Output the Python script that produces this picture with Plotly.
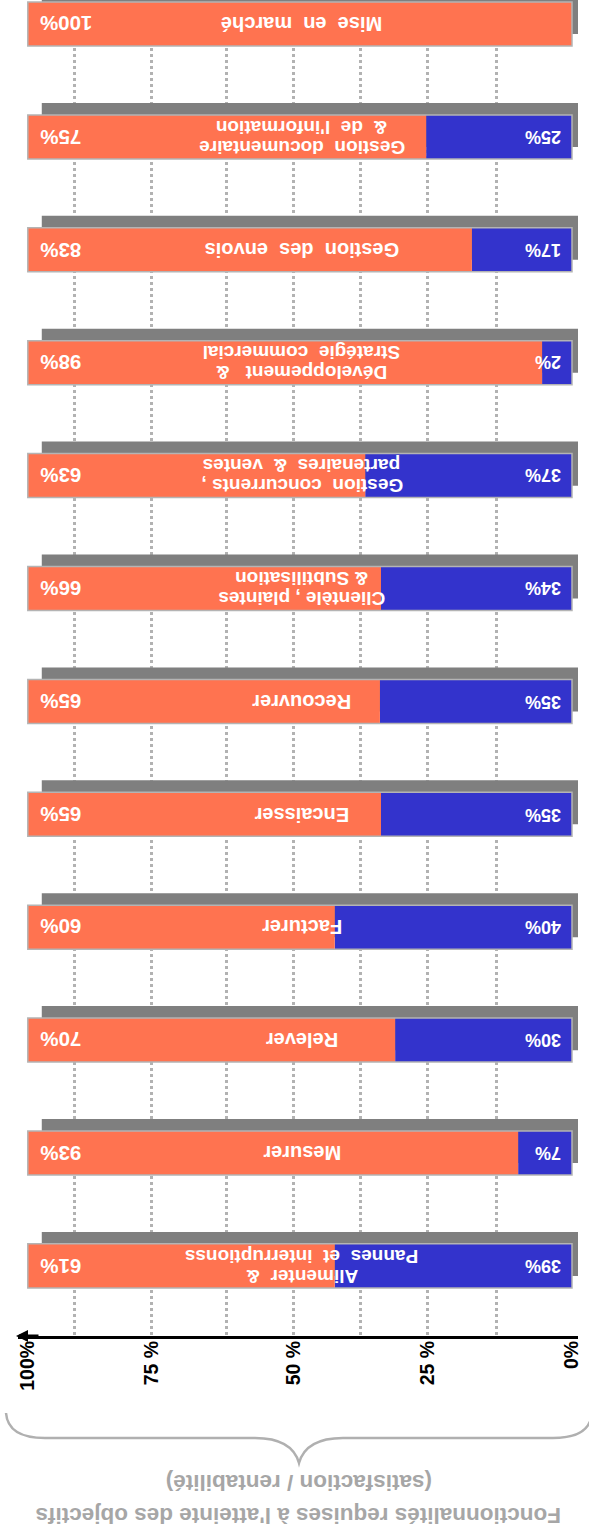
import plotly.graph_objects as go

# ---------------- data ----------------
categories = [
    "Mise en marché",
    "Gestion documentaire & de l'information",
    "Gestion des envois",
    "Développement & Stratégie commercial",
    "Gestion concurrents, partenaires & ventes",
    "Clientèle, plaintes & Subtilisation",
    "Recouvrer",
    "Encaisser",
    "Facturer",
    "Relever",
    "Mesurer",
    "Alimenter & Pannes et interruptionss",
]
# label lines as printed on each bar (first line is the lower one once turned)
category_lines = [
    ["Mise\u00a0 en\u00a0 marché"],
    ["Gestion\u00a0 documentaire", "&\u00a0 de\u00a0 l'information"],
    ["Gestion\u00a0 des\u00a0 envois"],
    ["Développement\u00a0\u00a0 &", "Stratégie\u00a0 commercial"],
    ["Gestion\u00a0 concurrents ,", "partenaires\u00a0 &\u00a0 ventes"],
    ["Clientèle , plaintes", "& Subtilisation"],
    ["Recouvrer"],
    ["Encaisser"],
    ["Facturer"],
    ["Relever"],
    ["Mesurer"],
    ["Alimenter\u00a0 &", "Pannes\u00a0 et\u00a0 interruptionss"],
]
# share of each bar drawn in blue (as drawn in the picture)
blue_drawn = [0, 26.8, 18.4, 5.5, 38.0, 35.1, 35.3, 35.1, 43.6, 32.5, 9.9, 43.6]
blue_text = ["", "25%", "17%", "2%", "37%", "34%", "35%", "35%", "40%", "30%", "7%", "39%"]
orange_text = ["100%", "75%", "83%", "98%", "63%", "66%", "65%", "65%", "60%", "70%", "93%", "61%"]
tick_vals = [0, 26.5, 51.1, 77.3, 100]
tick_text = ["0%", "25 %", "50 %", "75 %", "100%"]
grid_vals = [13.8, 26.5, 38.8, 51.1, 63.4, 77.3, 91.4]
title_lines = ["Fonctionnalités requises à l'atteinte des objectifs", "(satisfaction / rentabilité)"]

# ---------------- layout constants ----------------
W, H = 589, 1540
ML, MR, MT, MB = 18, 11, 0, 204
XR = [101.8, -1.1]
YR = [11.621, -0.2126]
BAR_W = 0.39
SHADOW_DY = 0.106
SHADOW_DX = 2.57
LINE_PITCH = 20
ORANGE = "#FF7350"
BLUE = "#3333CC"
SHADOW = "#7F7F7F"
FONT = "Liberation Sans"

n = len(categories)
orange_len = [100 - b for b in blue_drawn]

fig = go.Figure()
# shadows
fig.add_trace(go.Bar(y=categories, x=[100] * n, base=[-SHADOW_DX] * n, orientation="h",
                     width=BAR_W, offset=-BAR_W / 2 - SHADOW_DY, marker_color=SHADOW,
                     marker_line_width=0, cliponaxis=False, hoverinfo="skip", showlegend=False))
fig.add_trace(go.Bar(y=categories, x=blue_drawn, base=[0] * n, orientation="h",
                     width=BAR_W, offset=-BAR_W / 2, marker_color=BLUE,
                     marker_line_width=0, cliponaxis=False, showlegend=False))
fig.add_trace(go.Bar(y=categories, x=orange_len, base=blue_drawn, orientation="h",
                     width=BAR_W, offset=-BAR_W / 2, marker_color=ORANGE,
                     marker_line_width=0, cliponaxis=False, showlegend=False))
# outline
fig.add_trace(go.Bar(y=categories, x=[100] * n, base=[0] * n, orientation="h",
                     width=BAR_W, offset=-BAR_W / 2, marker_color="rgba(0,0,0,0)",
                     marker_line=dict(color="#B4B4B4", width=1.5), cliponaxis=False,
                     hoverinfo="skip", showlegend=False))
# dummy on overlay axis carrying the tick labels
fig.add_trace(go.Scatter(x=[50], y=[categories[0]], xaxis="x2", mode="markers",
                         marker=dict(opacity=0), hoverinfo="skip", showlegend=False))

ann = []
for i, c in enumerate(categories):
    lines = category_lines[i]
    m = len(lines)
    for k, line in enumerate(lines):
        ann.append(dict(x=49.6, y=c, xref="x", yref="y", text=line, showarrow=False,
                        textangle=180, xanchor="center", yanchor="middle", align="center",
                        yshift=(k - (m - 1) / 2) * LINE_PITCH,
                        font=dict(family=FONT, size=20 if m == 1 else 19,
                                  color="white", weight="bold")))
    ann.append(dict(x=98.0, y=c, xref="x", yref="y", text=orange_text[i], showarrow=False,
                    textangle=180, xanchor="left", yanchor="middle",
                    font=dict(family=FONT, size=20.5, color="white", weight="bold")))
    if blue_text[i]:
        ann.append(dict(x=1.65, y=c, xref="x", yref="y", text=blue_text[i], showarrow=False,
                        textangle=180, xanchor="right", yanchor="middle",
                        font=dict(family=FONT, size=18, color="white", weight="bold")))

PW, PH = W - ML - MR, H - MT - MB


def px(xp, yp):
    return (xp - ML) / PW, (H - MB - yp) / PH


# axis arrow
ax0, ay0 = px(16, 1336)
ann.append(dict(x=ax0, y=ay0, xref="paper", yref="paper", ax=24, ay=0, text="",
                showarrow=True, arrowhead=2, arrowsize=0.8, arrowwidth=3, arrowcolor="black"))
# title (two lines, first one lowest once turned)
for k, (yc, line) in enumerate(zip([1515, 1483], title_lines)):
    tx, ty = px(299, yc)
    ann.append(dict(x=tx, y=ty, xref="paper", yref="paper", text=line,
                    showarrow=False, textangle=180, xanchor="center", yanchor="middle",
                    font=dict(family=FONT, size=22.5, color="#A6A6A6", weight="bold")))

# brace path
pts = [("M", [(6, 1413)]), ("Q", [(8, 1438), (45, 1438)]), ("L", [(255, 1438)]),
       ("Q", [(292, 1438), (299, 1463)]), ("Q", [(306, 1438), (343, 1438)]),
       ("L", [(553, 1438)]), ("Q", [(590, 1438), (592, 1413)])]
path = ""
for cmd, plist in pts:
    path += cmd + " " + " ".join("%.5f,%.5f" % px(a, b) for a, b in plist) + " "

fig.update_layout(
    width=W, height=H, margin=dict(l=ML, r=MR, t=MT, b=MB),
    paper_bgcolor="white", plot_bgcolor="white", barmode="overlay",
    xaxis=dict(range=XR, autorange=False, tickvals=grid_vals, showticklabels=False,
               showgrid=True, griddash="dot", gridcolor="#B2B2B2", gridwidth=2.5,
               zeroline=False, showline=True, linecolor="black", linewidth=3, ticks=""),
    xaxis2=dict(range=XR, autorange=False, overlaying="x", anchor="y", side="bottom",
                tickvals=tick_vals, ticktext=tick_text, tickangle=-90, showgrid=False,
                zeroline=False, showline=False, ticks="",
                tickfont=dict(family=FONT, size=19.5, color="black", weight="bold")),
    yaxis=dict(type="category", categoryorder="array", categoryarray=categories,
               range=YR, autorange=False, showticklabels=False, showgrid=False,
               zeroline=False, showline=False, ticks=""),
    annotations=ann,
    shapes=[dict(type="path", path=path.strip(), xref="paper", yref="paper",
                 line=dict(color="#B0B0B0", width=2.5))],
    showlegend=False,
)

fig.write_html("out.html")
